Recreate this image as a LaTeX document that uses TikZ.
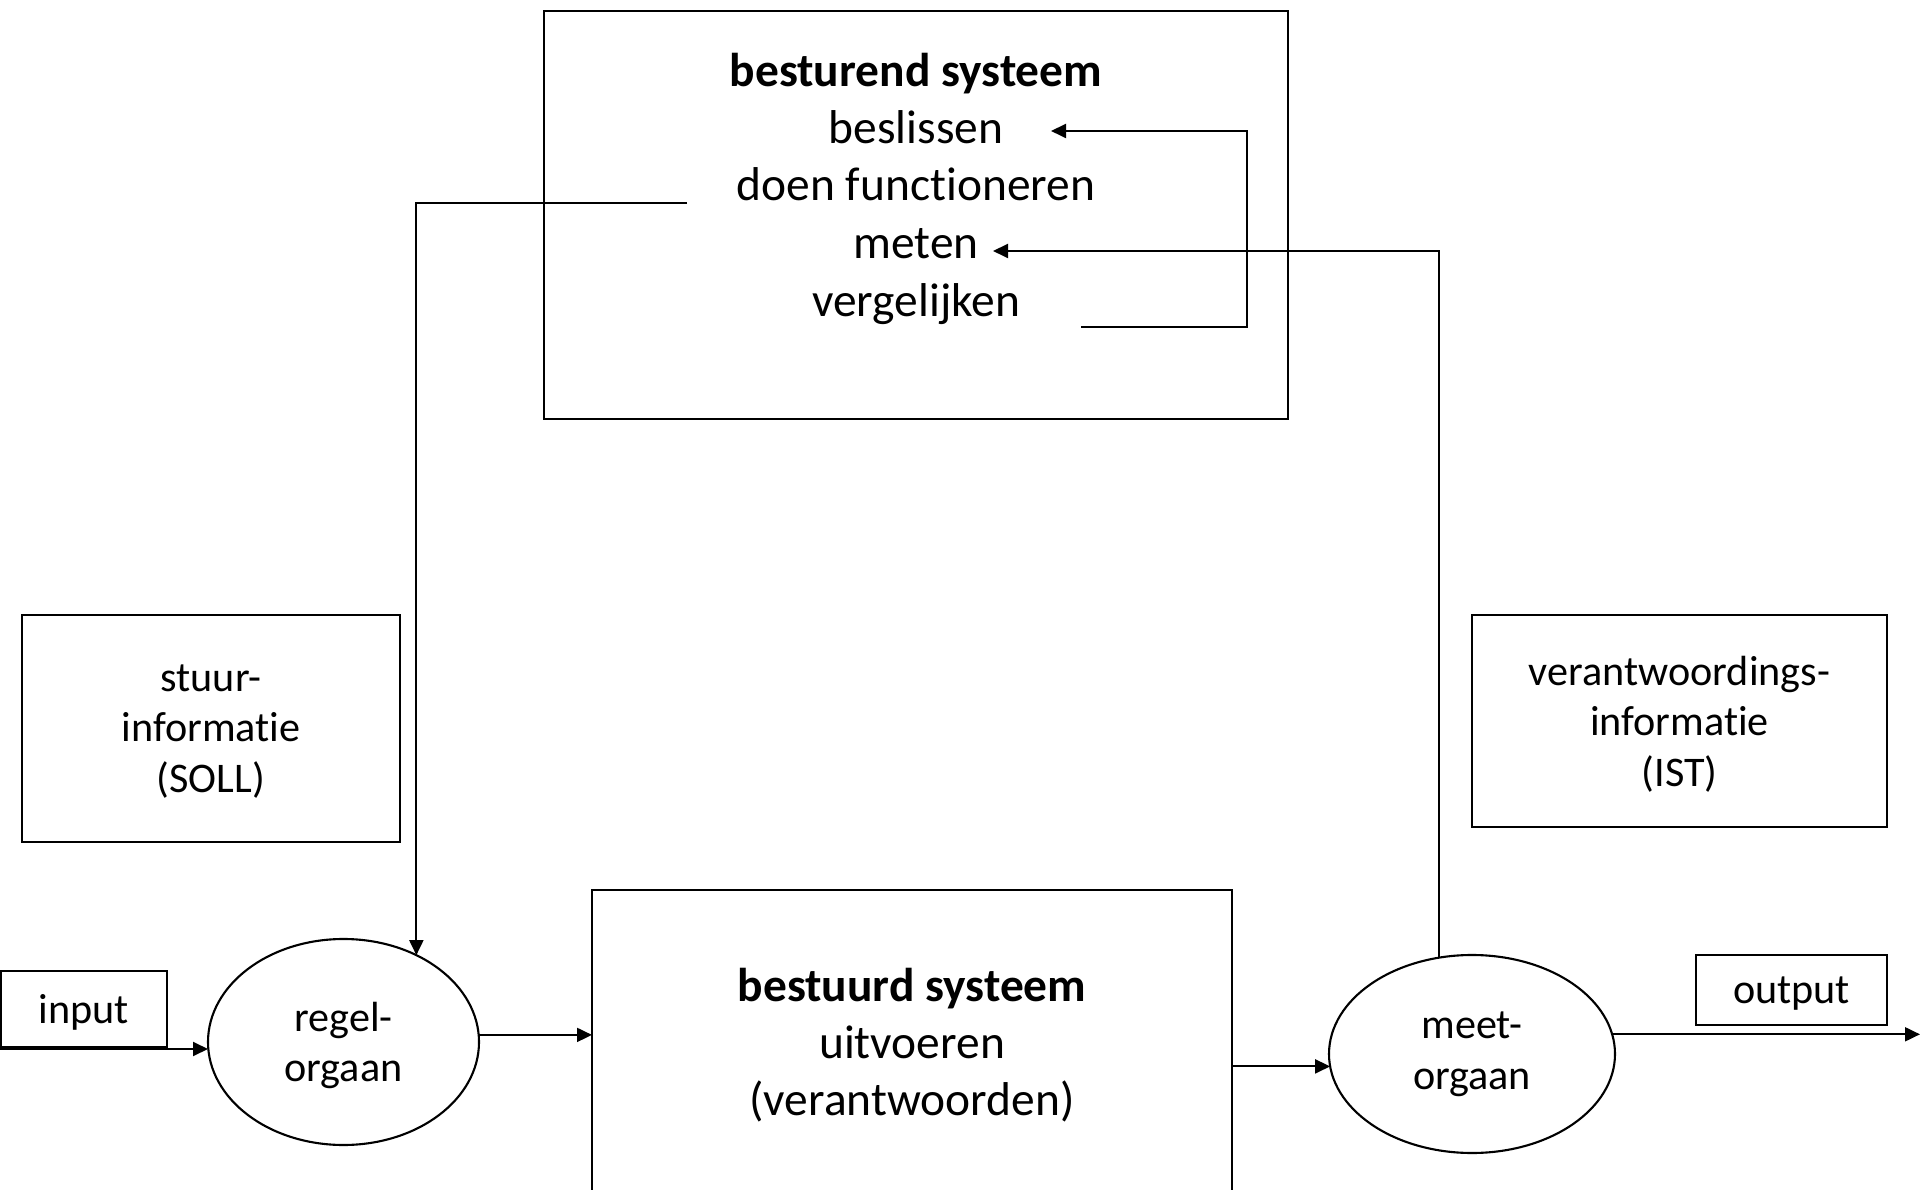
\documentclass[tikz,border=0pt]{standalone}
\usepackage{fontspec}
\setmainfont[Ligatures=NoCommon]{Carlito}
\usetikzlibrary{arrows.meta,shapes.geometric}

\begin{document}
\begin{tikzpicture}
            [box/.style={draw, line width=0.6pt, inner sep=0pt, outer sep=0pt, align=center},
            organ/.style={ellipse, draw, line width=0.6pt, inner sep=0pt, outer sep=0pt, align=center, font=\fontsize{12}{14.4}\selectfont},
            big/.style={font=\fontsize{13.5}{16.3}\selectfont, inner sep=0pt},
            small/.style={font=\fontsize{12}{14.4}\selectfont, text depth=0pt},
            arrow/.style={line width=0.55pt, -{Triangle[length=1.5mm, width=1.4mm]}}]

            \useasboundingbox (0,0) rectangle (19.2,11.89);
            \clip (0,0) rectangle (19.2,11.89);

            % besturend systeem
            \node[box, minimum width=7.44cm, minimum height=4.08cm] (besturend) at (9.16,9.74) {};
            \node[big, anchor=base] (titel) at (9.16,11.02) {\textbf{besturend systeem}};
            \node[big, anchor=base] (beslissen) at (9.16,10.45) {beslissen};
            \node[big, anchor=base] (doen) at (9.16,9.88) {doen functioneren};
            \node[big, anchor=base] (meten) at (9.16,9.30) {meten};
            \node[big, anchor=base] (vergelijken) at (9.16,8.72) {vergelijken};

            % information boxes
            \node[box, small, minimum width=3.78cm, minimum height=2.27cm] (stuur) at (2.11,4.605) {stuur-\\informatie\\(SOLL)};
            \node[box, small, minimum width=4.15cm, minimum height=2.12cm] (verant) at (16.795,4.68) {verantwoordings-\\informatie\\(IST)};

            % bottom row
            \node[box, small, minimum width=1.66cm, minimum height=0.76cm] (input) at (0.84,1.80) {input};
            \node[organ, text depth=0pt, minimum width=2.71cm, minimum height=2.06cm] (regel) at (3.435,1.47) {regel-\\orgaan};
            \node[box, font=\fontsize{13.5}{16.3}\selectfont, minimum width=6.40cm, minimum height=3.10cm] (bestuurd) at (9.12,1.44) {\textbf{bestuurd systeem}\\uitvoeren\\(verantwoorden)};
            \node[organ, minimum width=2.86cm, minimum height=1.98cm] (meet) at (14.72,1.35) {meet-\\orgaan};
            \node[box, small, minimum width=1.91cm, minimum height=0.70cm] (output) at (17.915,1.99) {output};

            % free ends of the connectors
            \coordinate (in) at (0,1.40);
            \coordinate (uit) at (19.2,1.54);
            \coordinate (doen-uit) at (6.87,9.86);
            \coordinate (vgl-uit) at (10.81,8.62);
            \coordinate (lus) at (12.47,10.58);
            \coordinate (besl-in) at (10.51,10.58);
            \coordinate (meten-in) at (9.93,9.38);

            \draw[arrow] (in) -- (regel.west |- in);
            \draw[arrow] (regel.3) -- (regel.3 -| bestuurd.west);
            \draw[arrow] (bestuurd.east |- meet.185) -- (meet.185);
            \draw[arrow] (meet.8) -- (meet.8 -| uit);
            \draw[arrow] (doen-uit) -| (regel.50);
            \draw[arrow] (meet.109) |- (meten-in);
            \draw[arrow] (vgl-uit) -| (lus) -- (besl-in);

        \end{tikzpicture}
\end{document}
